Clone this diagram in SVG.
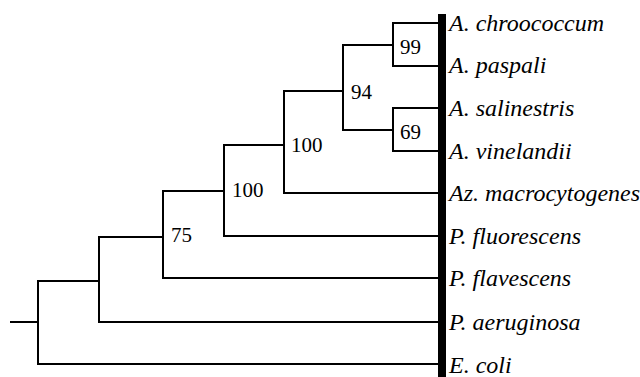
<svg xmlns="http://www.w3.org/2000/svg" width="640" height="377" viewBox="0 0 640 377">
<defs>
<style>
.e{fill:none;stroke:#000;stroke-width:2;stroke-linecap:square}
.t{font-family:"Liberation Serif","Times New Roman","DejaVu Serif",serif;font-style:italic;font-size:24px;fill:#000}
.b{font-family:"Liberation Serif","Times New Roman","DejaVu Serif",serif;font-size:21px;fill:#000}
</style>
</defs>
<rect width="640" height="377" fill="#fff"/>
<g id="connectors">
<path class="e" d="M438,23H393V66H438"/>
<path class="e" d="M438,108H393V151H438"/>
<path class="e" d="M393,45H343V130H393"/>
<path class="e" d="M343,91H284V193H438"/>
<path class="e" d="M284,145H224V236H438"/>
<path class="e" d="M224,191H163V278H438"/>
<path class="e" d="M163,237H99V322H438"/>
<path class="e" d="M99,281H38V364H438"/>
<path class="e" d="M11,322H38"/>
</g>
<g id="bar"><rect x="438" y="14" width="8" height="363" fill="#000"/></g>
<g id="n1"><text class="t" x="449" y="31">A. chroococcum</text></g>
<g id="n2"><text class="t" x="449" y="73">A. paspali</text></g>
<g id="n3"><text class="t" x="449" y="116">A. salinestris</text></g>
<g id="n4"><text class="t" x="449" y="159">A. vinelandii</text></g>
<g id="n5"><text class="t" x="449" y="201">Az. macrocytogenes</text></g>
<g id="n6"><text class="t" x="449" y="244">P. fluorescens</text></g>
<g id="n7"><text class="t" x="449" y="286">P. flavescens</text></g>
<g id="n8"><text class="t" x="449" y="330">P. aeruginosa</text></g>
<g id="n9"><text class="t" x="449" y="373">E. coli</text></g>
<g id="b99"><text class="b" x="400" y="54">99</text></g>
<g id="b69"><text class="b" x="400" y="139">69</text></g>
<g id="b94"><text class="b" x="351" y="99">94</text></g>
<g id="b100a"><text class="b" x="291" y="152">100</text></g>
<g id="b100b"><text class="b" x="232" y="197">100</text></g>
<g id="b75"><text class="b" x="171" y="242">75</text></g>
</svg>
